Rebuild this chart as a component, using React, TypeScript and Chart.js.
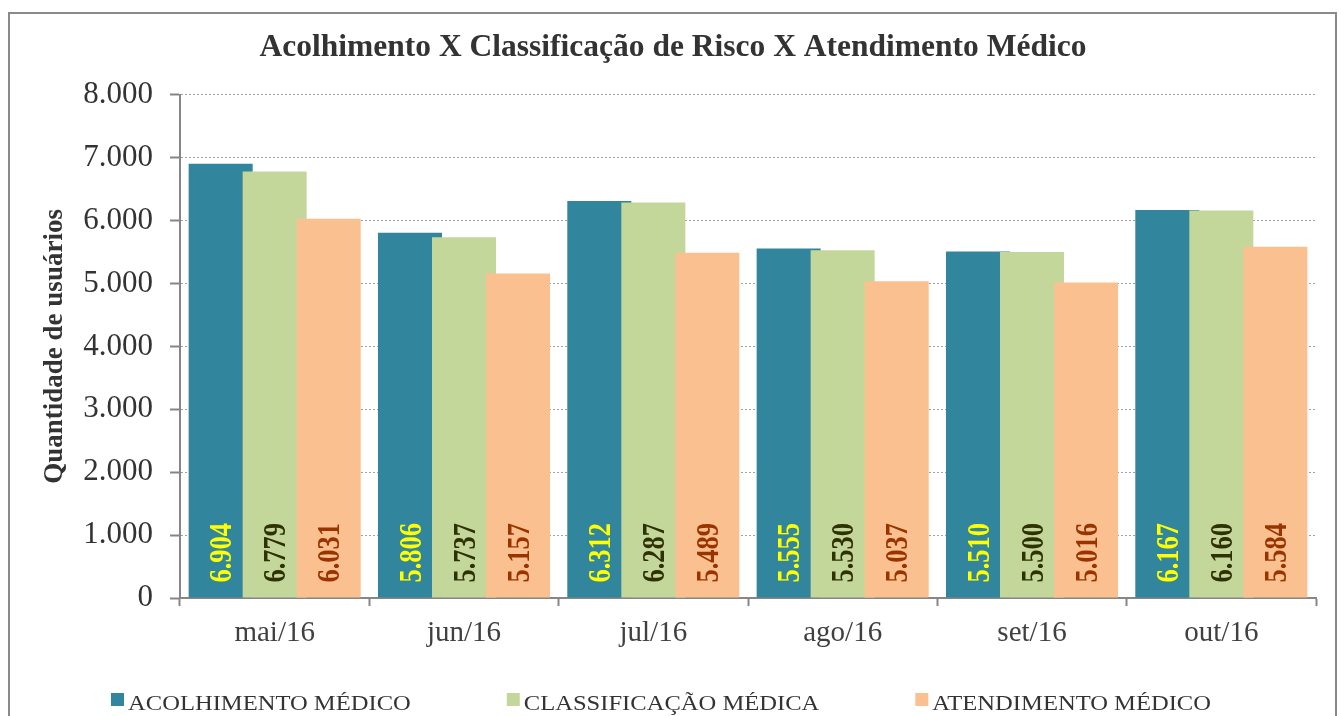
import React, { useEffect, useRef } from 'react';
import { Chart, registerables } from 'chart.js';

Chart.register(...registerables);

const chartTitle = 'Acolhimento X Classificação de Risco X Atendimento Médico';
const yAxisTitle = 'Quantidade de usuários';
const categories = ['mai/16', 'jun/16', 'jul/16', 'ago/16', 'set/16', 'out/16'];
const seriesNames = ['ACOLHIMENTO MÉDICO', 'CLASSIFICAÇÃO MÉDICA', 'ATENDIMENTO MÉDICO'];
const acolhimento = [6904, 5806, 6312, 5555, 5510, 6167];
const classificacao = [6779, 5737, 6287, 5530, 5500, 6160];
const atendimento = [6031, 5157, 5489, 5037, 5016, 5584];
const yMin = 0;
const yMax = 8000;
const yStep = 1000;

const barColors = ['#31859C', '#C4D79B', '#FAC090'];
const labelColors = ['#FFFF00', '#2E3100', '#993300'];
const SERIF = '"Liberation Serif", "Times New Roman", serif';
const STRETCH = 1.17;

const fmt = (v: number): string => {
  if (v < 1000) return String(v);
  return String(Math.floor(v / 1000)) + '.' + String(v % 1000).padStart(3, '0');
};

const orderAndLabels = {
  id: 'orderAndLabels',
  beforeDatasetsDraw(chart: any) {
    const metas = chart.getSortedVisibleDatasetMetas();
    for (const meta of metas) chart._drawDataset(meta);
    const ctx = chart.ctx;
    metas.forEach((meta: any) => {
      const ds = chart.data.datasets[meta.index];
      meta.data.forEach((bar: any, i: number) => {
        const { x, base } = bar.getProps(['x', 'base'], true);
        ctx.save();
        ctx.translate(x, base - 15);
        ctx.rotate(-Math.PI / 2);
        ctx.scale(1, STRETCH);
        ctx.font = 'bold 26.5px ' + SERIF;
        ctx.fillStyle = labelColors[meta.index];
        ctx.textAlign = 'left';
        ctx.textBaseline = 'alphabetic';
        ctx.fillText(fmt(ds.data[i] as number), 0, 9);
        ctx.restore();
      });
    });
    return false;
  },
};

const customLegend = {
  id: 'customLegend',
  afterDraw(chart: any) {
    const ctx = chart.ctx;
    const font = '21px ' + SERIF;
    const box = 13;
    const boxGap = 4;
    const itemGap = 96;
    const centerX = 661;
    const baseline = 709.5;
    const boxTop = 693;
    ctx.save();
    ctx.font = font;
    const widths = seriesNames.map((t) => ctx.measureText(t).width * STRETCH);
    const total =
      widths.reduce((a, b) => a + b, 0) + seriesNames.length * (box + boxGap) + (seriesNames.length - 1) * itemGap;
    let x = centerX - total / 2;
    seriesNames.forEach((name, i) => {
      ctx.fillStyle = barColors[i];
      ctx.fillRect(x, boxTop, box, box);
      x += box + boxGap;
      ctx.save();
      ctx.translate(x, baseline);
      ctx.scale(STRETCH, 1);
      ctx.fillStyle = '#333333';
      ctx.textAlign = 'left';
      ctx.textBaseline = 'alphabetic';
      ctx.fillText(name, 0, 0);
      ctx.restore();
      x += widths[i] + itemGap;
    });
    ctx.restore();
  },
};

export default function App() {
  const canvasRef = useRef<HTMLCanvasElement | null>(null);

  useEffect(() => {
    if (!canvasRef.current) return;
    const seriesData = [acolhimento, classificacao, atendimento];
    const chart = new Chart(canvasRef.current, {
      type: 'bar',
      data: {
        labels: categories,
        datasets: seriesNames.map((name, i) => ({
          label: name,
          data: seriesData[i],
          backgroundColor: barColors[i],
          borderWidth: 0,
          categoryPercentage: 0.856,
          barPercentage: 1.185,
        })),
      },
      options: {
        responsive: false,
        animation: false,
        layout: { padding: { left: 30, right: 25, top: 0, bottom: 58 } },
        plugins: {
          title: {
            display: true,
            text: chartTitle,
            color: '#333333',
            font: { family: SERIF, size: 31.5, weight: 'bold' },
            padding: { top: 29, bottom: 28 },
          },
          legend: { display: false },
          tooltip: { enabled: false },
        },
        scales: {
          x: {
            grid: {
              display: true,
              drawOnChartArea: false,
              offset: true,
              tickLength: 8,
              tickColor: '#868686',
              tickWidth: 2,
              tickBorderDash: [],
            },
            border: { color: '#868686', width: 2 },
            ticks: {
              color: '#404040',
              font: { family: SERIF, size: 29 },
              padding: 10,
            },
            afterFit: (s: any) => {
              s.height = 60;
            },
          },
          y: {
            min: yMin,
            max: yMax,
            ticks: {
              stepSize: yStep,
              color: '#333333',
              font: { family: SERIF, size: 31 },
              padding: 17,
              callback: (v: any) => fmt(Number(v)),
            },
            grid: {
              color: '#A0A0A0',
              lineWidth: 1,
              tickColor: '#868686',
              tickLength: 10,
              tickWidth: 2,
              tickBorderDash: [],
            },
            border: { color: '#868686', width: 2, dash: [2, 2] },
            title: {
              display: true,
              text: yAxisTitle,
              color: '#333333',
              font: { family: SERIF, size: 27, weight: 'bold' },
              padding: { top: 9, bottom: 0 },
            },
            afterFit: (s: any) => {
              s.width = 150;
            },
          },
        },
      } as any,
      plugins: [orderAndLabels as any, customLegend as any],
    });
    return () => chart.destroy();
  }, []);

  return (
    <div style={{ position: 'absolute', left: 0, top: 0, width: 1341, height: 716, overflow: 'hidden', background: '#ffffff' }}>
      <div
        style={{
          position: 'absolute',
          left: 8,
          top: 12,
          width: 1329,
          height: 720,
          border: '2px solid #8A8A8A',
          boxSizing: 'border-box',
        }}
      />
      <canvas
        ref={canvasRef}
        width={1341}
        height={716}
        style={{ position: 'absolute', left: 0, top: 0, display: 'block' }}
      />
    </div>
  );
}
